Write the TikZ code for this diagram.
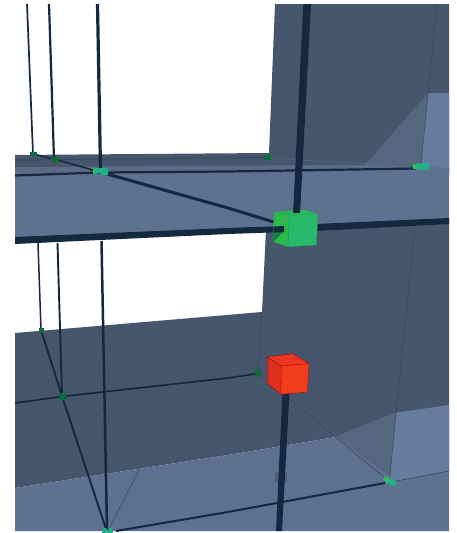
\documentclass[tikz,border=0pt]{standalone}
\definecolor{wallD}{HTML}{46566C}
\definecolor{bandL}{HTML}{5A6C86}
\definecolor{floorC}{HTML}{5F7190}
\definecolor{floorL}{HTML}{667C9C}
\definecolor{midC}{HTML}{55677F}
\definecolor{beamC}{HTML}{14283F}
\definecolor{edgeC}{HTML}{3A4A5E}
\definecolor{jointD}{HTML}{0E6B3C}
\definecolor{jointT}{HTML}{1FB386}
\definecolor{jointG}{HTML}{2FC05A}
\definecolor{cubeL}{HTML}{2DB84C}
\definecolor{cubeT}{HTML}{2CBB58}
\definecolor{cubeF}{HTML}{28B96C}
\definecolor{redL}{HTML}{E0301F}
\definecolor{redT}{HTML}{EE3722}
\definecolor{redF}{HTML}{F23D1E}
\tikzset{
  beam/.style={draw=beamC,line cap=butt},
  thin edge/.style={draw=edgeC,line width=0.6pt},
  joint/.style={fill=jointD},
  cube edge/.style={line width=0.3pt,line join=round}
}
\begin{document}
\begin{tikzpicture}[x=1pt,y=-1pt]
\useasboundingbox (0,0) rectangle (457,533);
% upper wall
\fill[wallD] (275,4) -- (449,4) -- (449,170) -- (269,170) -- (269,153) -- cycle;
\fill[midC] (428,93) -- (365,165) -- (421,170) -- cycle;
\fill[floorL] (428,93) -- (449,93) -- (449,170) -- (420,170) -- cycle;
% upper band
\fill[wallD] (15,155) -- (269,153) -- (269,167) -- (15,167) -- cycle;
\fill[bandL] (15,167) -- (269,165.5) -- (365,165) -- (449,168) -- (449,176) -- (15,176) -- cycle;
\draw[draw=edgeC,line width=1pt] (15,160) -- (267,157.5);
\draw[thin edge,draw=bandL!70!wallD] (267,158) -- (421,167);
% lower wall
\fill[wallD] (15,333) -- (262,312) -- (266,230) -- (449,218) -- (449,406) -- (396,413) -- (336,437) -- (228,455) -- (15,488) -- cycle;
% main floor lower
\fill[floorC] (15,488) -- (228,455) -- (336,437) -- (396,413) -- (449,405) -- (449,531) -- (15,531) -- cycle;
\fill[midC] (336,437) -- (396,413) -- (390,476) -- cycle;
\fill[floorL] (396,413) -- (449,405) -- (449,471) -- (391,482) -- (390,476) -- cycle;
% upper floor slab
\fill[floorC] (15,175) -- (100,172.5) -- (449,168) -- (449,219) -- (318,228) -- (15,238) -- cycle;
% thin structural edges
\draw[thin edge] (437,4) -- (428,93) -- (421,165);
\draw[thin edge] (415,226) -- (411,266) -- (396,413) -- (390,476);
\draw[thin edge] (391,482) -- (449,471);
\draw[thin edge] (258,373) -- (262,312);
\draw[thin edge] (258,373) -- (385,478);
\draw[draw=edgeC!70!floorC,line width=1pt] (110,527) -- (140,468);
% ghost joint
\fill[edgeC,opacity=.45] (275,473) rectangle (287,482);
% columns upper left
\draw[beam,line width=1.7pt] (27,4) -- (33,154);
\draw[beam,line width=2.2pt] (49,4) -- (54,159);
\draw[beam,line width=3.2pt] (97.5,4) -- (100.5,170);
% columns lower left
\draw[beam,line width=1.5pt] (38,243) -- (41,330);
\draw[beam,line width=1.9pt] (57.5,243) -- (62,396);
\draw[beam,line width=2.5pt] (101.5,241) -- (107,530);
% floor lines
\draw[beam,line width=2.2pt] (15,175.5) -- (100,172.5) -- (228,171.5) -- (416,168.5);
\draw[beam,line width=1.5pt] (33,154) -- (54,159) -- (100,172);
\draw[beam,line width=3pt] (100,172) -- (228,208) -- (277,223);
\draw[beam,line width=1.6pt] (15,403) -- (62,396.5) -- (228,378) -- (258,373.5);
\draw[beam,line width=1.9pt] (41,330) -- (62,396) -- (106,529);
\draw[beam,line width=2pt] (116,531) -- (228,512) -- (385,483);
% main beams
\fill[beamC] (15,237) -- (228,228) -- (284,226) -- (284,232) -- (228,234) -- (15,244) -- cycle;
\fill[beamC] (316,224) -- (449,218) -- (449,224) -- (316,231) -- cycle;
\fill[beamC] (303.3,4) -- (311,4) -- (300,214) -- (293,214) -- cycle;
\fill[beamC] (282.5,392) -- (289.5,392) -- (282,531) -- (276,531) -- cycle;
% small joints
\fill[joint] (30,151.5) rectangle (36.5,156);
\fill[joint] (50.5,157) rectangle (58.5,162);
\fill[joint] (255,370) -- (259,369.5) -- (261,373) -- (259,377) -- (255,376) -- cycle;
\fill[joint] (38.5,327.5) rectangle (43.5,332.5);
\fill[joint] (59,393) rectangle (66,400);
\fill[joint] (264,155) rectangle (271,160);
% teal joints
\fill[jointG] (93,168) rectangle (96,174);
\fill[jointT] (95,168) -- (108,168) -- (108,175) -- (102,175) -- (100,173) -- (95,174) -- cycle;
\fill[jointG] (413,163.5) rectangle (420,168.5);
\fill[jointT] (417,163.5) -- (429,163) -- (429,170) -- (417,170) -- cycle;
\fill[jointG,rounded corners=2pt] (382.5,477) -- (386,476) -- (391,479) -- (390,484) -- (385,482) -- cycle;
\fill[jointT,rounded corners=2pt] (388,479) -- (396,480) -- (396,486) -- (390,486) -- cycle;
\fill[jointT] (102,533) -- (103,528.5) -- (106,528) -- (108,531) -- (109,528) -- (112,528.5) -- (113,533) -- cycle;
% green cube
\begin{scope}[cube edge]
\filldraw[fill=cubeL,draw=cubeL!85!black] (274,212) -- (289.7,214.3) -- (288,246.7) -- (273.3,241.7) -- cycle;
\fill[jointD!80!jointG] (273.3,241.7) -- (283.5,231.5) -- (273.3,232) -- cycle;
\filldraw[fill=cubeT,draw=cubeT!85!black] (274,212) -- (304,210) -- (318,214) -- (289.7,214.3) -- cycle;
\filldraw[fill=cubeF,draw=cubeF!85!black] (289.7,214.3) -- (318,214) -- (316.3,245) -- (288,246.7) -- cycle;
\fill[beamC] (293,209) rectangle (300,213);
\fill[beamC] (273.5,226.5) -- (284,226) -- (284,232) -- (273.5,232.5) -- cycle;
% red cube
\filldraw[fill=redL,draw=red!60!black] (267.3,357) -- (281.3,366) -- (281,394.3) -- (267.3,383.3) -- cycle;
\filldraw[fill=redT,draw=red!60!black] (267.3,357) -- (293,353.7) -- (309,363.7) -- (281.3,366) -- cycle;
\filldraw[fill=redF,draw=red!70!black] (281.3,366) -- (309,363.7) -- (307.3,392) -- (281,394.3) -- cycle;
\end{scope}
\end{tikzpicture}
\end{document}
